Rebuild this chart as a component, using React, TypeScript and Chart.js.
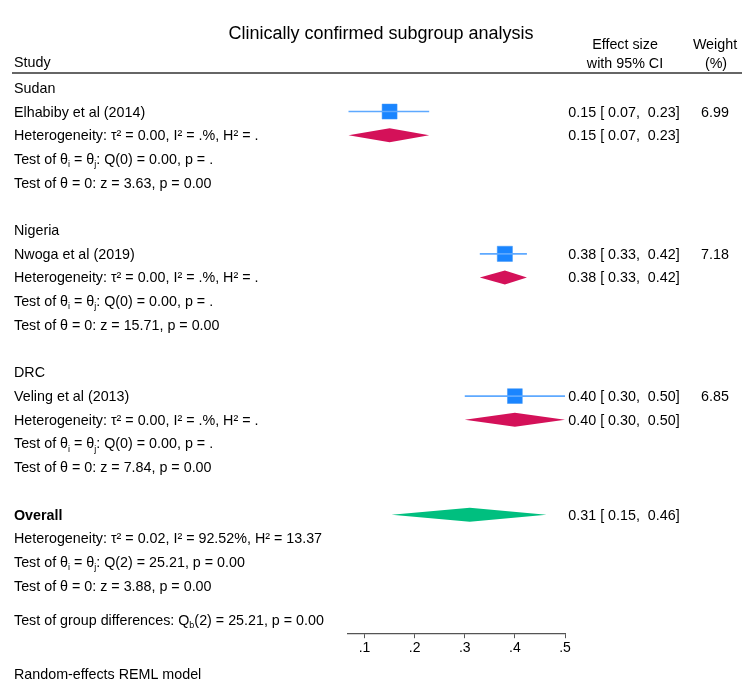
import React, { useEffect, useRef } from "react";
import { Chart, registerables } from "chart.js";

Chart.register(...registerables);

const FONT = "'Liberation Sans', Arial, Helvetica, sans-serif";

const titleText = "Clinically confirmed subgroup analysis";
const groups = ["Sudan", "Nigeria", "DRC"];
const studies = ["Elhabiby et al (2014)", "Nwoga et al (2019)", "Veling et al (2013)"];
const effects = [0.15, 0.38, 0.4];
const lowers = [0.068, 0.33, 0.3];
const uppers = [0.229, 0.424, 0.5];
const weights = [6.99, 7.18, 6.85];
const groupEffects = [0.15, 0.38, 0.4];
const groupLowers = [0.068, 0.33, 0.3];
const groupUppers = [0.229, 0.424, 0.5];
const groupHet = [
  "Heterogeneity: τ² = 0.00, I² = .%, H² = .",
  "Heterogeneity: τ² = 0.00, I² = .%, H² = .",
  "Heterogeneity: τ² = 0.00, I² = .%, H² = .",
];
const groupQ = [
  "Test of θ_{i} = θ_{j}: Q(0) = 0.00, p = .",
  "Test of θ_{i} = θ_{j}: Q(0) = 0.00, p = .",
  "Test of θ_{i} = θ_{j}: Q(0) = 0.00, p = .",
];
const groupZ = [
  "Test of θ = 0: z = 3.63, p = 0.00",
  "Test of θ = 0: z = 15.71, p = 0.00",
  "Test of θ = 0: z = 7.84, p = 0.00",
];
const overallEffect = 0.31;
const overallLower = 0.154;
const overallUpper = 0.463;
const overallHet = "Heterogeneity: τ² = 0.02, I² = 92.52%, H² = 13.37";
const overallQ = "Test of θ_{i} = θ_{j}: Q(2) = 25.21, p = 0.00";
const overallZ = "Test of θ = 0: z = 3.88, p = 0.00";
const groupDiff = "Test of group differences: Q_{b}(2) = 25.21, p = 0.00";
const footnote = "Random-effects REML model";
const tickValues = [0.1, 0.2, 0.3, 0.4, 0.5];
const tickLabels = [".1", ".2", ".3", ".4", ".5"];

const f2 = (v: number) => v.toFixed(2);
const ciText = (e: number, lo: number, hi: number) => `${f2(e)} [ ${f2(lo)},  ${f2(hi)}]`;

function drawRich(
  ctx: CanvasRenderingContext2D,
  text: string,
  x: number,
  y: number,
  size: number,
  align: "left" | "center" = "left",
  bold = false
) {
  const parts: { t: string; sub: boolean }[] = [];
  const re = /_\{([^}]*)\}/g;
  let last = 0;
  let m: RegExpExecArray | null;
  while ((m = re.exec(text))) {
    if (m.index > last) parts.push({ t: text.slice(last, m.index), sub: false });
    parts.push({ t: m[1], sub: true });
    last = m.index + m[0].length;
  }
  if (last < text.length) parts.push({ t: text.slice(last), sub: false });
  const fontFor = (sub: boolean) =>
    `${bold ? "bold " : ""}${sub ? Math.round(size * 0.62) : size}px ${FONT}`;
  let total = 0;
  for (const p of parts) {
    ctx.font = fontFor(p.sub);
    total += ctx.measureText(p.t).width;
  }
  let cx = align === "center" ? x - total / 2 : x;
  ctx.textAlign = "left";
  ctx.textBaseline = "middle";
  for (const p of parts) {
    ctx.font = fontFor(p.sub);
    ctx.fillText(p.t, cx, p.sub ? y + size * 0.32 : y);
    cx += ctx.measureText(p.t).width;
  }
}

const forestPlugin = {
  id: "forestText",
  afterDraw(chart: any) {
    const ctx: CanvasRenderingContext2D = chart.ctx;
    const xs = chart.scales.x;
    const ys = chart.scales.y;
    const py = (r: number) => ys.getPixelForValue(r) + 1;
    const LEFT = 14;
    const ESX = 624;
    const WX = 715;
    const FS = 14.3;
    ctx.save();
    ctx.fillStyle = "#000";

    // title and headers
    drawRich(ctx, titleText, 381, 34, 18, "center");
    drawRich(ctx, "Study", LEFT, 63, FS);
    drawRich(ctx, "Effect size", ESX + 1, 45, FS, "center");
    drawRich(ctx, "with 95% CI", ESX + 1, 64, FS, "center");
    drawRich(ctx, "Weight", WX, 45, FS, "center");
    drawRich(ctx, "(%)", WX + 1, 64, FS, "center");
    ctx.strokeStyle = "#333";
    ctx.lineWidth = 1.3;
    ctx.beginPath();
    ctx.moveTo(12, 73);
    ctx.lineTo(742, 73);
    ctx.stroke();

    const diamond = (e: number, lo: number, hi: number, row: number, color: string) => {
      const yc = ys.getPixelForValue(row);
      const h = 7;
      ctx.fillStyle = color;
      ctx.beginPath();
      ctx.moveTo(xs.getPixelForValue(lo), yc);
      ctx.lineTo(xs.getPixelForValue(e), yc - h);
      ctx.lineTo(xs.getPixelForValue(hi), yc);
      ctx.lineTo(xs.getPixelForValue(e), yc + h);
      ctx.closePath();
      ctx.fill();
    };

    groups.forEach((g, i) => {
      const base = i * 6;
      ctx.fillStyle = "#000";
      drawRich(ctx, g, LEFT, py(base), FS);
      drawRich(ctx, studies[i], LEFT, py(base + 1), FS);
      drawRich(ctx, ciText(effects[i], lowers[i], uppers[i]), ESX, py(base + 1), FS, "center");
      drawRich(ctx, f2(weights[i]), WX, py(base + 1), FS, "center");
      drawRich(ctx, groupHet[i], LEFT, py(base + 2), FS);
      drawRich(
        ctx,
        ciText(groupEffects[i], groupLowers[i], groupUppers[i]),
        ESX,
        py(base + 2),
        FS,
        "center"
      );
      drawRich(ctx, groupQ[i], LEFT, py(base + 3), FS);
      drawRich(ctx, groupZ[i], LEFT, py(base + 4), FS);
      diamond(groupEffects[i], groupLowers[i], groupUppers[i], base + 2, "#d41159");
    });

    ctx.fillStyle = "#000";
    drawRich(ctx, "Overall", LEFT, py(18), FS, "left", true);
    drawRich(ctx, ciText(overallEffect, overallLower, overallUpper), ESX, py(18), FS, "center");
    drawRich(ctx, overallHet, LEFT, py(19), FS);
    drawRich(ctx, overallQ, LEFT, py(20), FS);
    drawRich(ctx, overallZ, LEFT, py(21), FS);
    drawRich(ctx, groupDiff, LEFT, py(22.45), FS);
    drawRich(ctx, footnote, LEFT, 675, FS);
    diamond(overallEffect, overallLower, overallUpper, 18, "#00bf7f");
    ctx.restore();
  },
};

export default function App() {
  const ref = useRef<HTMLCanvasElement | null>(null);
  useEffect(() => {
    if (!ref.current) return;
    const ciSets = studies.map((s, i) => ({
      type: "line" as const,
      label: s + " CI",
      data: [
        { x: lowers[i], y: i * 6 + 1 },
        { x: uppers[i], y: i * 6 + 1 },
      ],
      borderColor: "#5ea9ff",
      borderWidth: 1.6,
      pointRadius: 0,
      showLine: true,
      fill: false,
    }));
    const chart = new Chart(ref.current, {
      type: "scatter",
      data: {
        datasets: [
          ...ciSets,
          {
            type: "scatter" as const,
            label: "Studies",
            data: studies.map((_, i) => ({ x: effects[i], y: i * 6 + 1 })),
            pointStyle: "rect",
            pointRadius: weights.map((w) => 10.6 * Math.sqrt(w / 7)),
            backgroundColor: "#1a85ff",
            borderColor: "#3f95f5",
            borderWidth: 0.5,
          },
        ] as any,
      },
      options: {
        responsive: false,
        animation: false,
        layout: { padding: { left: 348, right: 191, top: 76, bottom: 31 } },
        plugins: {
          legend: { display: false },
          tooltip: { enabled: false },
          title: { display: false },
        },
        scales: {
          x: {
            type: "linear",
            min: 0.067,
            max: 0.5,
            afterBuildTicks: (s: any) => {
              s.ticks = tickValues.map((v) => ({ value: v }));
            },
            ticks: {
              callback: (_v: any, i: number) => tickLabels[i],
              font: { size: 14, family: FONT },
              color: "#000",
              padding: 2,
              maxRotation: 0,
              autoSkip: false,
            },
            grid: {
              display: true,
              drawOnChartArea: false,
              drawTicks: true,
              tickLength: 5,
              color: "#555",
            },
            border: { display: true, color: "#555", width: 1.2 },
          },
          y: { type: "linear", display: false, reverse: true, min: -0.5, max: 23 },
        },
      },
      plugins: [forestPlugin],
    });
    return () => chart.destroy();
  }, []);
  return (
    <div style={{ position: "absolute", left: 0, top: 0, width: 756, height: 690, background: "#fff" }}>
      <canvas ref={ref} width={756} height={690} />
    </div>
  );
}
